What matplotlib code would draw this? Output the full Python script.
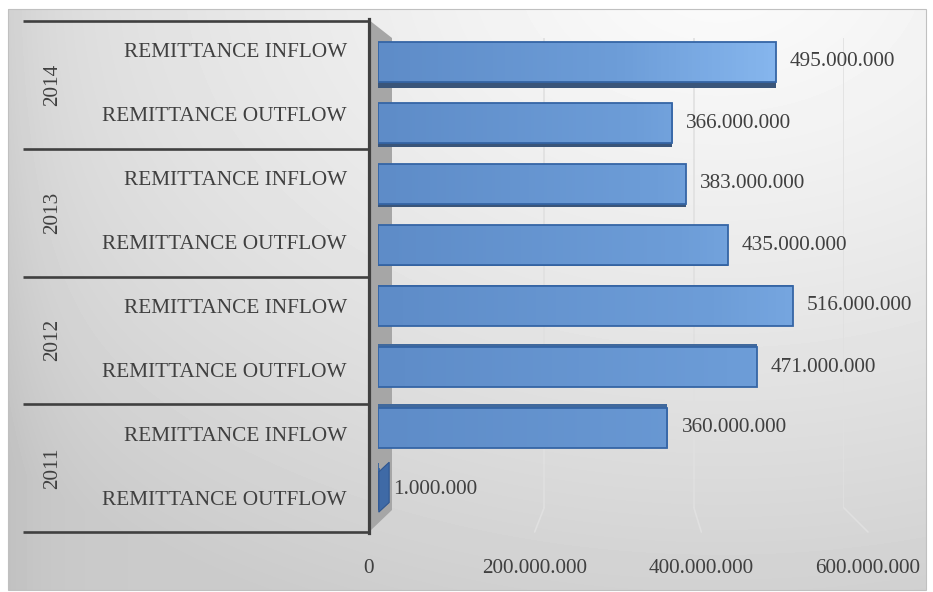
import numpy as np
import matplotlib
matplotlib.use('Agg')
import matplotlib.pyplot as plt
from matplotlib.colors import LinearSegmentedColormap
from matplotlib.patches import Rectangle, Polygon, ConnectionPatch

plt.rcParams['font.family'] = ['Liberation Serif', 'DejaVu Serif']
plt.rcParams['font.size'] = 15.3
plt.rcParams['text.color'] = '#404040'
plt.rcParams['xtick.color'] = '#404040'

# data
years = ['2011', '2012', '2013', '2014']
flows = ['REMITTANCE OUTFLOW', 'REMITTANCE INFLOW']
outflow = [1000000, 471000000, 435000000, 366000000]
inflow = [360000000, 516000000, 383000000, 495000000]
ticks = [0, 200000000, 400000000, 600000000]

values = []
for o, i in zip(outflow, inflow):
    values += [o, i]

W, H = 933, 592


def box(l, t, r, b):
    return [l / W, 1 - b / H, (r - l) / W, (b - t) / H]


def fmt(v):
    return '{:,.0f}'.format(v).replace(',', '.')


fig = plt.figure(figsize=(W / 100, H / 100), dpi=100)

# background gradient of the chart area
bg = fig.add_axes([0, 0, 1, 1], zorder=0)
bg.set_xlim(0, W)
bg.set_ylim(H, 0)
bg.axis('off')
yy, xx = np.mgrid[9:590, 8:926].astype(float)
dist = np.sqrt(((xx - 720) / 1000) ** 2 + ((yy + 30) / 700) ** 2)
shade = 0.985 - 0.19 * np.minimum(dist, 1) ** 1.2 - 0.04 * np.exp(-(xx - 8) / 40)
bg.imshow(shade, cmap='gray', vmin=0, vmax=1, extent=(8, 926, 590, 9),
          aspect='auto', interpolation='bilinear')
bg.add_patch(Rectangle((8, 9), 918, 581, fill=False, ec='#c0c0c0', lw=0.8))
# side wall of the 3d plot
bg.add_patch(Polygon([(369, 20), (392, 38), (392, 510), (369, 532)],
                     closed=True, fc='#a6a6a6', ec='none'))

# back wall gridlines
wall = fig.add_axes(box(394, 38, 844, 508), zorder=1)
wall.set_xlim(0, 600000000)
wall.set_ylim(0, 1)
wall.axis('off')
for t in ticks[1:]:
    wall.axvline(t, color='#e0e0e0', lw=1.2)

# floor edge with tick labels
floor = fig.add_axes(box(368, 532, 868, 534), zorder=2)
floor.set_xlim(0, 600000000)
floor.set_xticks(ticks)
floor.set_xticklabels([fmt(t) for t in ticks])
floor.set_yticks([])
floor.tick_params(axis='x', length=0, pad=18)
for s in floor.spines.values():
    s.set_visible(False)
floor.patch.set_visible(False)
for t in ticks[1:]:
    con = ConnectionPatch(xyA=(t, 0), coordsA=wall.transData,
                          xyB=(t, 1), coordsB=floor.transData,
                          color='#e0e0e0', lw=1.2)
    fig.add_artist(con)

# category axis panel
cat = fig.add_axes(box(23, 21, 369, 532), zorder=2)
cat.set_xlim(0, 1)
cat.set_ylim(0, 8)
cat.axis('off')
for k in range(5):
    cat.plot([0, 1], [2 * k, 2 * k], color='#404040', lw=1.9,
             solid_capstyle='butt', clip_on=False)
cat.plot([1, 1], [-0.02, 8.03], color='#404040', lw=2.3, clip_on=False)
for i, yr in enumerate(years):
    cat.text(0.087, 2 * i + 1, yr, rotation=90, ha='center', va='center')
    for j, fl in enumerate(flows):
        cat.text(0.936, 2 * i + j + 0.5, fl, ha='right', va='center')

# bars
ax = fig.add_axes(box(378, 31.5, 860.4, 519.5), zorder=3)
ax.patch.set_visible(False)
ax.set_xlim(0, 600000000)
ax.set_ylim(-0.5, 7.5)
bar_cmap = LinearSegmentedColormap.from_list('bars', ['#5e8cc8', '#6d9dd8', '#93c3f9'])
h = 0.66
for idx, val in enumerate(values):
    bar = ax.barh(idx, val, height=h, color='none', edgecolor='#3565a5',
                  lw=1.3, zorder=3)[0]
    light = 0.5 + 0.5 * idx / 7
    grad = np.linspace(0, val / 600000000, 100)[None, :] * light
    im = ax.imshow(grad, cmap=bar_cmap, vmin=0, vmax=1,
                   extent=(0, val, idx - h / 2, idx + h / 2),
                   aspect='auto', zorder=2)
    im.set_clip_path(bar)
    d = 0.028 * abs(idx - 3.5)
    if idx > 3.5:
        ax.barh(idx - h / 2 - d / 2, val, height=d, color='#3a5579', lw=0, zorder=2)
    else:
        ax.barh(idx + h / 2 + d / 2, val, height=d, color='#41699c', lw=0, zorder=2)
    # end face of the bar, seen only when the bar is short
    xf = ax.transData.transform((val, idx))[0]
    xb = wall.transData.transform((val, 0))[0]
    if xb > xf:
        xb = xf + (xb - xf) * 0.65
        yt = H - ax.transData.transform((val, idx + h / 2))[1]
        yb = H - ax.transData.transform((val, idx - h / 2))[1]
        shift = ((yt + yb) / 2 - 275) * 0.045
        face = Polygon([(xf, yt + 3), (xb, yt + 3 - shift), (xb, yb + 3 - shift), (xf, yb + 3)],
                       closed=True, fc='#3f6aa6', ec='#2f5690', lw=0.8,
                       transform=bg.transData)
        fig.add_artist(face)
        face.set_zorder(4)
    ax.annotate(fmt(val), (val, idx), xytext=(14, 0), textcoords='offset pixels',
                ha='left', va='center')
ax.axis('off')

fig.savefig('out.png', dpi=100)
